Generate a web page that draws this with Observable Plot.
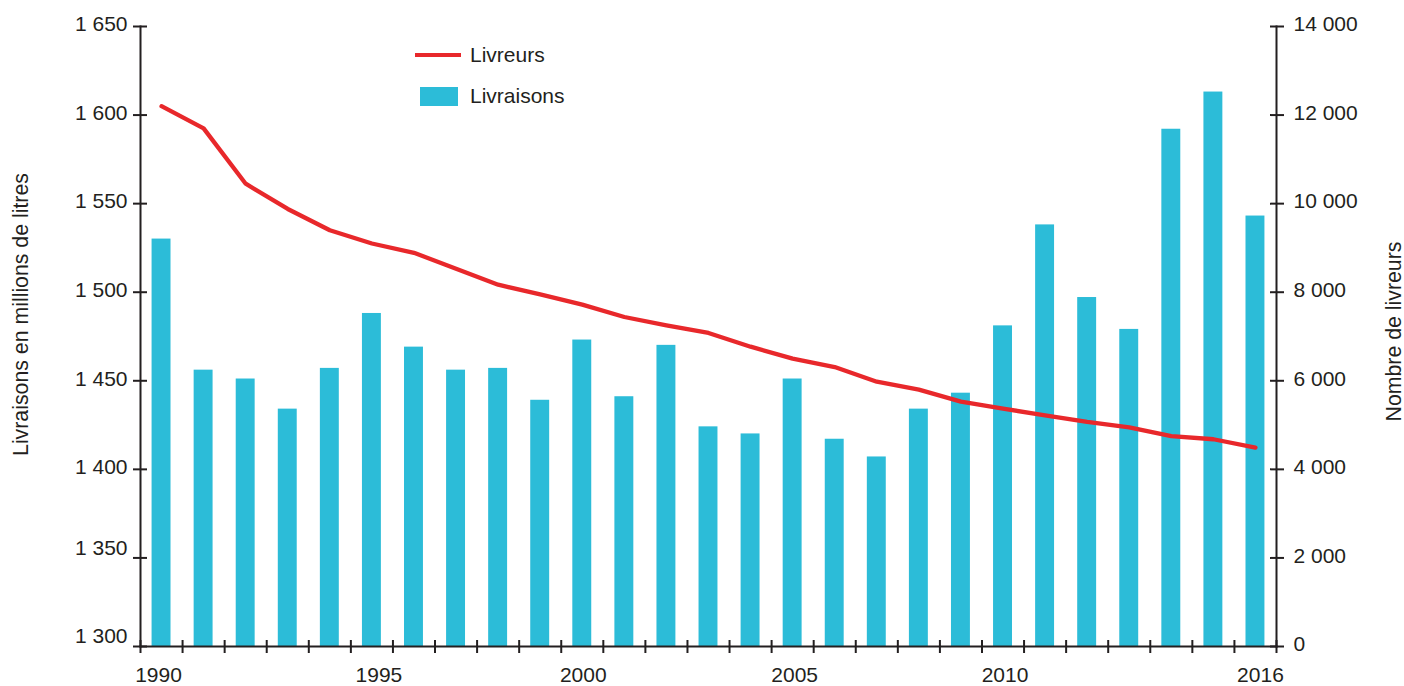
<!DOCTYPE html>
<html>
<head>
<meta charset="utf-8">
<script src="https://cdn.jsdelivr.net/npm/d3@7"></script>
<script src="https://cdn.jsdelivr.net/npm/@observablehq/plot@0.6"></script>
<style>
  body { margin: 0; background: #fff; }
  #wrap { position: relative; width: 1404px; height: 686px; font-family: "Liberation Sans", Arial, sans-serif; color: #231f20; }
  .leg-text { position: absolute; font-size: 21px; line-height: 21px; white-space: nowrap; }
  .leg-line { position: absolute; height: 4px; background: #e8282b; }
  .leg-rect { position: absolute; background: #2cbcd8; }
</style>
</head>
<body>
<div id="wrap"></div>
<script>
// ---- Data ----
const years = [1990, 1991, 1992, 1993, 1994, 1995, 1996, 1997, 1998, 1999, 2000, 2001, 2002, 2003,
               2004, 2005, 2006, 2007, 2008, 2009, 2010, 2011, 2012, 2013, 2014, 2015, 2016];
// Livraisons en millions de litres (left axis)
const livraisons = [1530, 1456, 1451, 1434, 1457, 1488, 1469, 1456, 1457, 1439, 1473, 1441, 1470, 1424,
                    1420, 1451, 1417, 1407, 1434, 1443, 1481, 1538, 1497, 1479, 1592, 1613, 1543];
// Nombre de livreurs (right axis)
const livreurs = [12200, 11700, 10450, 9880, 9400, 9100, 8890, 8530, 8170, 7950, 7720, 7440, 7250, 7080,
                  6770, 6500, 6310, 5980, 5800, 5530, 5370, 5220, 5070, 4950, 4750, 4680, 4490];
const leftTicks = [1300, 1350, 1400, 1450, 1500, 1550, 1600, 1650];
const rightTicks = [0, 2000, 4000, 6000, 8000, 10000, 12000, 14000];
const xLabelTicks = [1990, 1995, 2000, 2005, 2010, 2016];
const labels = {
  left: "Livraisons en millions de litres",
  right: "Nombre de livreurs",
  line: "Livreurs",
  bars: "Livraisons"
};

// ---- Helpers ----
const data = years.map((year, i) => ({ year, livraisons: livraisons[i], livreurs: livreurs[i] }));
const leftDomain = [1300, 1650];
const rightDomain = [0, 14000];
const toLeft = v => leftDomain[0] + (v - rightDomain[0]) * (leftDomain[1] - leftDomain[0]) / (rightDomain[1] - rightDomain[0]);
const fromLeft = v => rightDomain[0] + (v - leftDomain[0]) * (rightDomain[1] - rightDomain[0]) / (leftDomain[1] - leftDomain[0]);
const fmt = d3.formatLocale({ decimal: ",", thousands: " ", grouping: [3], currency: ["", " €"] }).format(",d");

const W = 1404, H = 686, mL = 140, mR = 128, mT = 26, mB = 40;
const step = (W - mL - mR) / years.length;
const ink = "#231f20";
const red = "#e8282b";
const cyan = "#2cbcd8";

// label nudges seen in the original artwork
const xLabelNudge = { 1990: -3, 1995: 7, 2000: 1, 2005: 2, 2010: 2, 2016: 5 };
const leftLow = leftTicks.filter(t => t < 1400);
const leftHigh = leftTicks.filter(t => t >= 1400);

const xLabelMarks = xLabelTicks.map(t =>
  Plot.axisX([t], { anchor: "bottom", tickSize: 0, tickPadding: 21, dx: xLabelNudge[t] || 0, tickFormat: d => String(d), label: null, fill: ink })
);

const chart = Plot.plot({
  width: W, height: H,
  marginLeft: mL, marginRight: mR, marginTop: mT, marginBottom: mB,
  style: { fontFamily: "'Liberation Sans', Arial, sans-serif", fontSize: "21px", color: ink, background: "#fff", overflow: "visible" },
  x: { type: "band", domain: years, paddingInner: 0.55, paddingOuter: 0.275, align: 0.5, round: false, axis: null },
  y: { domain: leftDomain, axis: null },
  marks: [
    Plot.barY(data, { x: "year", y1: leftDomain[0], y2: "livraisons", fill: cyan }),
    Plot.line(data, { x: "year", y: d => toLeft(d.livreurs), stroke: red, strokeWidth: 4.3 }),
    // axis lines
    Plot.frame({ anchor: "left", stroke: ink, strokeWidth: 2 }),
    Plot.frame({ anchor: "right", stroke: ink, strokeWidth: 2 }),
    Plot.frame({ anchor: "bottom", stroke: ink, strokeWidth: 2 }),
    // x ticks at band boundaries (crossing the axis)
    Plot.axisX(years, { anchor: "bottom", tickSize: 13, dx: -step / 2, dy: -6, tickFormat: () => "", label: null, strokeWidth: 2, stroke: ink }),
    Plot.axisX([years[years.length - 1]], { anchor: "bottom", tickSize: 13, dx: step / 2, dy: -6, tickFormat: () => "", label: null, strokeWidth: 2, stroke: ink }),
    // x labels
    ...xLabelMarks,
    // left ticks + labels
    Plot.axisY(leftTicks, { anchor: "left", tickSize: 14, dx: 7, tickFormat: () => "", label: null, strokeWidth: 2, stroke: ink }),
    Plot.axisY(leftHigh, { anchor: "left", tickSize: 0, tickPadding: 13, dy: -2, tickFormat: fmt, label: null, fill: ink }),
    Plot.axisY(leftLow, { anchor: "left", tickSize: 0, tickPadding: 13, dy: -10, tickFormat: fmt, label: null, fill: ink }),
    // right ticks + labels
    Plot.axisY(rightTicks.map(toLeft), { anchor: "right", tickSize: 14, dx: -7, tickFormat: () => "", label: null, strokeWidth: 2, stroke: ink }),
    Plot.axisY(rightTicks.map(toLeft), { anchor: "right", tickSize: 0, tickPadding: 17, dy: -2, tickFormat: d => fmt(Math.round(fromLeft(d))), label: null, fill: ink }),
    // axis titles
    Plot.text([labels.left], { frameAnchor: "left", rotate: -90, dx: -119, dy: -22, text: d => d, fill: ink, fontSize: 21.3, textAnchor: "middle", lineAnchor: "middle" }),
    Plot.text([labels.right], { frameAnchor: "right", rotate: -90, dx: 118, dy: -5, text: d => d, fill: ink, fontSize: 21.3, textAnchor: "middle", lineAnchor: "middle" })
  ]
});

const wrap = document.getElementById("wrap");
wrap.appendChild(chart);

// legend (HTML overlay inside the plot area)
const leg = [
  `<div class="leg-line" style="left:415px;top:53px;width:46px;"></div>`,
  `<div class="leg-text" style="left:470px;top:44px;">${labels.line}</div>`,
  `<div class="leg-rect" style="left:420px;top:87px;width:38px;height:19px;"></div>`,
  `<div class="leg-text" style="left:470px;top:85px;">${labels.bars}</div>`
];
leg.forEach(h => wrap.insertAdjacentHTML("beforeend", h));
</script>
</body>
</html>
